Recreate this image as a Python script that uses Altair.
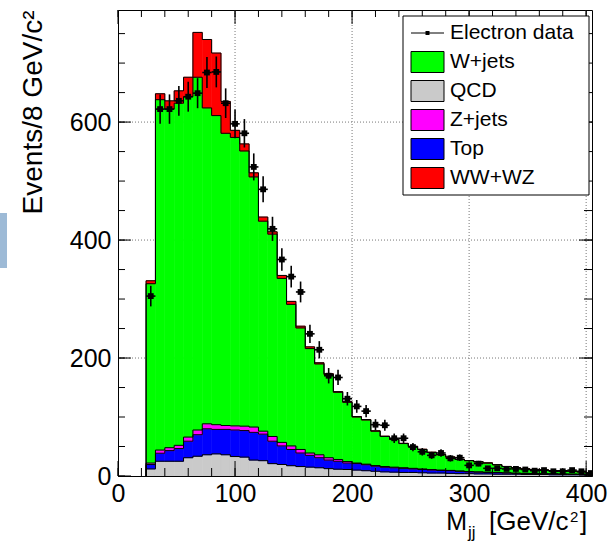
import altair as alt
import pandas as pd
import numpy as np

FONT = "Liberation Sans"

# Dijet mass histogram: 8 GeV/c^2 bins starting at 24 GeV/c^2
bin_lo = 24
bin_width = 8

data_counts = [305, 622, 622, 636, 643, 649, 684, 685, 632, 597,
               581, 524, 486, 419, 367, 338, 312, 241, 214, 170,
               167, 131, 118, 110, 87, 86, 64, 64, 49, 41,
               35, 39, 30, 31, 18, 21, 13, 13, 12, 12,
               11, 9, 10, 8, 8, 10, 8, 5]

qcd = [12, 25, 25, 25, 31, 33.5, 36, 37.5, 36, 33,
       32, 27, 26, 21, 19.5, 17.5, 16, 15, 14, 12.5,
       11.5, 11, 10, 9, 8, 7, 6.5, 6, 6, 5.5,
       5, 5, 4.5, 4, 4, 3.5, 3.5, 3, 3, 3,
       2.5, 2.5, 2.5, 2, 2, 2, 2, 1.5]

top = [7.4, 13.6, 18, 21.5, 28, 36.5, 44, 41.5, 43, 45,
       45, 47, 45, 38, 31.5, 27.5, 23, 20, 17, 14.5,
       13.5, 11, 11, 10, 8.6, 7.8, 7.3, 7, 6, 5.5,
       5, 4.5, 4.5, 4, 3, 3, 2.5, 2.5, 2, 1.5,
       1.5, 1.5, 1, 1.5, 1, 1, 0.8, 1]

zjets = [2.6, 5.4, 5, 5.5, 7, 8, 8.5, 8, 6.6, 7,
         7.5, 9, 5, 8, 6, 6, 6, 4, 5, 4,
         3, 2.5, 1, 1.1, 1.1, 1.2, 1.2, 1, 1, 1,
         1, 0.5, 0.5, 0.5, 0.5, 0.5, 0.5, 0.5, 0.5, 0.5,
         0.5, 0.3, 0.5, 0.3, 0.5, 0.3, 0.2, 0.3]

wjets = [304, 594, 574, 580, 577, 598, 535.5, 524, 495.4, 489,
         466.5, 424, 356, 343, 278, 240, 206, 177, 154, 141,
         114, 100.5, 78, 74.9, 58.3, 51, 47, 41, 37, 33,
         29, 26, 22.5, 19.5, 18.5, 17, 15.5, 13, 10.5, 9,
         7.5, 6.7, 6, 5.2, 5.5, 4.7, 4, 2.2]

wwwz = [5, 10, 14, 21, 33, 76, 116, 106, 54, 12,
        12, 7, 7, 4, 5, 5, 3, 3, 2, 1.5,
        1, 1, 0.8, 0.7, 0.6, 0.5, 0.5, 0.4, 0.4, 0.3,
        0.3, 0.3, 0.3, 0.2, 0.2, 0.2, 0.2, 0.2, 0.2, 0.2,
        0.1, 0.1, 0.1, 0.1, 0.1, 0.1, 0.1, 0.1]

# stacking order, bottom to top
processes = ["QCD", "Top", "Z+jets", "W+jets", "WW+WZ"]
components = [qcd, top, zjets, wjets, wwwz]
colors = {"QCD": "#cacaca", "Top": "#0000ff", "Z+jets": "#ff00ff",
          "W+jets": "#00ff00", "WW+WZ": "#ff0000"}

legend_labels = ["Electron data", "W+jets", "QCD", "Z+jets", "Top", "WW+WZ"]

x_major = [0, 100, 200, 300, 400]
x_minor = list(range(0, 401, 20))
y_major = [0, 200, 400, 600]
y_minor = list(range(0, 751, 50))

W, H = 474, 466
XDOM = [0, 405]
YDOM = [0, 790]
xs = alt.Scale(domain=XDOM, nice=False, zero=False)
ys = alt.Scale(domain=YDOM, nice=False)

# one axis definition shared by every layer so the merged axes keep it
AX_X = alt.Axis(
    values=x_major, labelFontSize=25, labelFont=FONT, labelColor="black",
    labelFlush=False, ticks=False, tickSize=0, labelPadding=5,
    grid=False, domain=True, domainColor="black", domainWidth=1,
    title=None, zindex=1)
AX_Y = alt.Axis(
    values=y_major, labelFontSize=25, labelFont=FONT, labelColor="black",
    labelFlush=False, ticks=False, tickSize=0, labelPadding=7,
    grid=False, domain=False,
    title="Events/8 GeV/c²", titleFont=FONT, titleFontSize=28,
    titleFontWeight="normal", titleColor="black", titleAngle=270,
    titleAlign="right", titleBaseline="alphabetic", titleX=-77, titleY=0)


def X(field, **kw):
    return alt.X(field, scale=xs, axis=AX_X, **kw)


def Y(field, **kw):
    return alt.Y(field, scale=ys, axis=AX_Y, **kw)


n = len(data_counts)
left = np.array([bin_lo + bin_width * i for i in range(n)], dtype=float)
right = left + bin_width
centers = left + bin_width / 2

# stacked rectangles and step outlines
rects = []
steps = []
cum = np.zeros(n)
for k, (name, vals) in enumerate(zip(processes, components)):
    lo = cum.copy()
    cum = cum + np.array(vals, dtype=float)
    for i in range(n):
        rects.append({"process": name, "x0": left[i], "x1": right[i],
                      "y0": lo[i], "y1": cum[i], "layer": k})
    pts = [(left[0], 0.0)] + [(left[i], cum[i]) for i in range(n)] + \
          [(right[-1], cum[-1]), (right[-1], 0.0)]
    for j, (ex, ey) in enumerate(pts):
        steps.append({"series": name, "ex": ex, "ey": ey, "ord": j})
rect_df = pd.DataFrame(rects)
step_df = pd.DataFrame(steps)

counts = np.array(data_counts, dtype=float)
err = np.sqrt(counts)
pts_df = pd.DataFrame({"xc": centers, "xl": centers - bin_width / 2,
                       "xr": centers + bin_width / 2, "n": counts,
                       "lo": counts - err, "hi": counts + err})

proc_scale = alt.Scale(domain=list(colors.keys()), range=list(colors.values()))

bars = alt.Chart(rect_df).mark_rect(clip=True, strokeWidth=0.6).encode(
    x=X("x0:Q"), x2="x1:Q",
    y=Y("y0:Q"), y2="y1:Q",
    fill=alt.Fill("process:N", scale=proc_scale, legend=None),
    stroke=alt.Stroke("process:N", scale=proc_scale, legend=None),
)

outlines = alt.Chart(step_df).mark_line(
    interpolate="step-after", color="black", strokeWidth=1, clip=True
).encode(x=X("ex:Q"), y=Y("ey:Q"), detail="series:N", order="ord:Q")

grid_x = alt.Chart(pd.DataFrame({"gx": x_major[1:]})).mark_rule(
    color="#777777", strokeDash=[1, 2], strokeWidth=1
).encode(x=X("gx:Q"))

grid_y = alt.Chart(pd.DataFrame({"gy": y_major[1:]})).mark_rule(
    color="#777777", strokeDash=[1, 2], strokeWidth=1
).encode(y=Y("gy:Q"))

vbars = alt.Chart(pts_df).mark_rule(color="black", strokeWidth=1.6, clip=True).encode(
    x=X("xc:Q"), y=Y("lo:Q"), y2="hi:Q")
hbars = alt.Chart(pts_df).mark_rule(color="black", strokeWidth=1.6, clip=True).encode(
    x=X("xl:Q"), x2="xr:Q", y=Y("n:Q"))
markers = alt.Chart(pts_df).mark_square(color="black", size=34, opacity=1, clip=True).encode(
    x=X("xc:Q"), y=Y("n:Q"))


def ticks(values, axis, side, length):
    df = pd.DataFrame({"tv": values})
    base = alt.Chart(df).mark_rule(color="black", strokeWidth=1)
    if axis == "x":
        a, b = (H, H - length) if side == "bottom" else (0, length)
        return base.encode(x=X("tv:Q"), y=alt.value(a), y2=alt.value(b))
    a, b = (0, length) if side == "left" else (W, W - length)
    return base.encode(y=Y("tv:Q"), x=alt.value(a), x2=alt.value(b))


tick_layers = [
    ticks(x_minor, "x", "bottom", 8), ticks(x_major, "x", "bottom", 15),
    ticks(x_minor, "x", "top", 7), ticks(x_major, "x", "top", 14),
    ticks(y_minor, "y", "left", 7), ticks(y_major, "y", "left", 13),
    ticks(y_minor, "y", "right", 8), ticks(y_major, "y", "right", 13),
]

# legend box in the upper right corner
leg_x0, leg_x1, leg_y0, leg_y1 = 285, 471, 6, 185
row0, row_step = 23, 29
leg_df = pd.DataFrame({
    "label": legend_labels,
    "fillc": ["black"] + [colors[l] for l in legend_labels[1:]],
    "row": list(range(len(legend_labels))),
})
leg_df["cy"] = row0 + row_step * leg_df["row"]
leg_df["sy0"] = leg_df["cy"] - 10.5
leg_df["sy1"] = leg_df["cy"] + 10.5

leg_frame = alt.Chart(pd.DataFrame({"k": [0]})).mark_rect(
    fill="white", stroke="black", strokeWidth=1
).encode(x=alt.value(leg_x0), x2=alt.value(leg_x1),
         y=alt.value(leg_y0), y2=alt.value(leg_y1))

swatches = alt.Chart(leg_df[leg_df["row"] > 0]).mark_rect(
    stroke="black", strokeWidth=1
).encode(
    x=alt.value(293), x2=alt.value(326),
    y=alt.Y("sy0:Q", scale=None), y2="sy1:Q",
    fill=alt.Fill("fillc:N", scale=None),
)

data_key_line = alt.Chart(leg_df[leg_df["row"] == 0]).mark_rule(
    color="black", strokeWidth=1
).encode(x=alt.value(293), x2=alt.value(326), y=alt.Y("cy:Q", scale=None))
data_key_dot = alt.Chart(leg_df[leg_df["row"] == 0]).mark_square(
    color="black", size=16, opacity=1
).encode(x=alt.value(309.5), y=alt.Y("cy:Q", scale=None))

leg_text = alt.Chart(leg_df).mark_text(
    align="left", baseline="middle", font=FONT, fontSize=21, color="black"
).encode(x=alt.value(332), y=alt.Y("cy:Q", scale=None), text="label:N")

# x-axis title, assembled from pieces for the subscript and superscript
title_df = pd.DataFrame({"k": [0]})


def title_piece(txt, x, y, size, align="left"):
    return alt.Chart(title_df).mark_text(
        text=txt, align=align, baseline="alphabetic", font=FONT,
        fontSize=size, color="black").encode(x=alt.value(x), y=alt.value(y))


t_m = title_piece("M", 349, 520, 25, align="right")
t_jj = title_piece("jj", 350, 528, 17)
t_unit = title_piece("[GeV/c", 371, 520, 26)
t_sup = title_piece("2", 452, 512, 15)
t_close = title_piece("]", 462, 520, 26)

# side tab
tab = alt.Chart(title_df).mark_rect(color="#9dbad6").encode(
    x=alt.value(-118), x2=alt.value(-111), y=alt.value(203), y2=alt.value(258))

chart = alt.layer(
    grid_x, grid_y, bars, outlines, vbars, hbars, markers,
    *tick_layers,
    leg_frame, swatches, data_key_line, data_key_dot, leg_text,
    t_m, t_jj, t_unit, t_sup, t_close, tab,
).properties(
    width=W, height=H,
    padding={"left": 118, "top": 10, "right": 19, "bottom": 65},
    autosize=alt.AutoSizeParams(type="none"),
    background="white",
).configure_view(stroke="black", strokeWidth=1)

chart.save("out.html", embed_options={"renderer": "svg", "actions": False})
